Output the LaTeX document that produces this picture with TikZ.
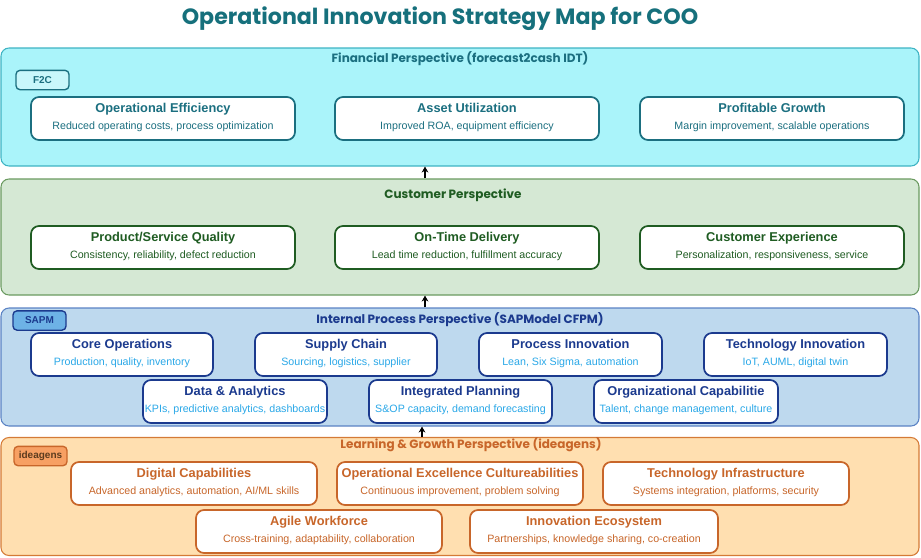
\documentclass[tikz,border=0pt]{standalone}
\usepackage{fontspec}
\setmainfont{Liberation Sans}
\newfontfamily\headfont{Poppins}
\usepackage{tikz}
\usetikzlibrary{arrows.meta}
\usetikzlibrary{positioning}
\definecolor{titleteal}{HTML}{16707C}
\definecolor{finfill}{HTML}{AAF4FA}
\definecolor{finline}{HTML}{3DB3C3}
\definecolor{findark}{HTML}{1B6F80}
\definecolor{finbadge}{HTML}{C9F7FB}
\definecolor{custfill}{HTML}{D5E8D4}
\definecolor{custline}{HTML}{6A9A60}
\definecolor{custdark}{HTML}{1F5C22}
\definecolor{intfill}{HTML}{BED9EE}
\definecolor{intline}{HTML}{5A82C4}
\definecolor{intdark}{HTML}{1B3A8E}
\definecolor{intsub}{HTML}{2AA8E8}
\definecolor{intbadge}{HTML}{6DB2E6}
\definecolor{learnfill}{HTML}{FFDFB0}
\definecolor{learnline}{HTML}{D47A36}
\definecolor{learndark}{HTML}{C8662A}
\definecolor{learnbadge}{HTML}{F7A063}
\definecolor{learnbadgetext}{HTML}{5C3B1E}
\tikzset{panel box/.style={draw,
                           rectangle,
                           rounded corners=6pt,
                           line width=0.8pt,
                           inner sep=0pt}}
\tikzset{item box/.style={draw,
                          rectangle,
                          rounded corners=6pt,
                          line width=1.3pt,
                          fill=white,
                          inner sep=0pt,
                          minimum height=32.25pt}}
\tikzset{badge box/.style={draw,
                           rectangle,
                           rounded corners=3pt,
                           line width=1pt,
                           inner sep=0pt,
                           minimum width=39.75pt,
                           minimum height=14.5pt,
                           font=\bfseries\fontsize{7.5}{9}\selectfont}}
\tikzset{panel title/.style={font=\headfont\bfseries\fontsize{9}{11}\selectfont}}
\tikzset{flow/.style={draw,
                      line width=1.2pt,
                      -{Stealth[length=4.5pt,width=5pt]}}}
\newcommand{\HEAD}{\bfseries\fontsize{9.6}{11}\selectfont}
\newcommand{\SUB}{\fontsize{8}{9.5}\selectfont}

\begin{document}
\begin{tikzpicture}
      [
      x=0.75pt,y=-0.75pt,
      item head/.style={anchor=base,font=\HEAD},
      item text/.style={anchor=base,font=\SUB},
      ]
      \useasboundingbox (0,0) rectangle (921,557);

      % title
      \node [font=\headfont\bfseries\fontsize{16.6}{19}\selectfont,text=titleteal] (title) at (440,19)
      {Operational Innovation Strategy Map for COO};

      % panels
      \node [panel box,fill=finfill,draw=finline,minimum width=688.5pt,minimum height=88.5pt] (fin) at (460,107) {};
      \node [panel box,fill=custfill,draw=custline,minimum width=688.5pt,minimum height=87pt] (cust) at (460,237) {};
      \node [panel box,fill=intfill,draw=intline,minimum width=688.5pt,minimum height=88.5pt] (int) at (460,367) {};
      \node [panel box,fill=learnfill,draw=learnline,minimum width=688.5pt,minimum height=88.5pt] (learn) at (460,496.5) {};

      \node [panel title,text=findark] (fin title) at (460,59) {Financial Perspective (forecast2cash IDT)};
      \node [panel title,text=custdark] (cust title) at (453,195) {Customer Perspective};
      \node [panel title,text=intdark] (int title) at (460,320) {Internal Process Perspective (SAPModel CFPM)};
      \node [panel title,text=learndark] (learn title) at (471,445) {Learning \& Growth Perspective (ideagens)};

      % badges
      \node [badge box,fill=finbadge,draw=findark,text=findark] (f2c) at (42.5,80) {F2C};
      \node [badge box,fill=intbadge,draw=intdark,text=intdark] (sapm) at (39.5,320.5) {SAPM};
      \node [badge box,fill=learnbadge,draw=learndark,text=learnbadgetext] (ideagens) at (40.5,456) {ideagens};

      % financial boxes
      \foreach \n/\xa/\xb/\ya/\hd/\tx in
      {
      effic/31/295/97/{Operational Efficiency}/{Reduced operating costs, process optimization},
      asset/335/599/97/{Asset Utilization}/{Improved ROA, equipment efficiency},
      growth/640/904/97/{Profitable Growth}/{Margin improvement, scalable operations}
      }
      {
      \node [item box,draw=findark,minimum width={(\xb-\xa)*0.75pt}] (\n) at ({(\xa+\xb)/2},{\ya+21.5}) {};
      \node [below=12pt of \n.north,item head,text=findark] (\n hd) {\hd};
      \node [below=24.75pt of \n.north,item text,text=findark] (\n tx) {\tx};
      }

      % customer boxes
      \foreach \n/\xa/\xb/\ya/\hd/\tx in
      {
      quality/31/295/226/{Product/Service Quality}/{Consistency, reliability, defect reduction},
      delivery/335/599/226/{On-Time Delivery}/{Lead time reduction, fulfillment accuracy},
      experience/640/904/226/{Customer Experience}/{Personalization, responsiveness, service}
      }
      {
      \node [item box,draw=custdark,minimum width={(\xb-\xa)*0.75pt}] (\n) at ({(\xa+\xb)/2},{\ya+21.5}) {};
      \node [below=12pt of \n.north,item head,text=custdark] (\n hd) {\hd};
      \node [below=24.75pt of \n.north,item text,text=custdark] (\n tx) {\tx};
      }

      % internal process boxes
      \foreach \n/\xa/\xb/\ya/\hd/\tx in
      {
      core/31/213/333/{Core Operations}/{Production, quality, inventory},
      supply/255/437/333/{Supply Chain}/{Sourcing, logistics, supplier},
      process/479/662/333/{Process Innovation}/{Lean, Six Sigma, automation},
      techinno/704/887/333/{Technology Innovation}/{IoT, AUML, digital twin},
      data/143/327/380/{Data \& Analytics}/{KPIs, predictive analytics, dashboards},
      planning/369/552/380/{Integrated Planning}/{S\&OP capacity, demand forecasting},
      orgcap/594/778/380/{Organizational Capabilitie}/{Talent, change management, culture}
      }
      {
      \node [item box,draw=intdark,minimum width={(\xb-\xa)*0.75pt}] (\n) at ({(\xa+\xb)/2},{\ya+21.5}) {};
      \node [below=12pt of \n.north,item head,text=intdark] (\n hd) {\hd};
      \node [below=24.75pt of \n.north,item text,text=intsub] (\n tx) {\tx};
      }

      % learning boxes
      \foreach \n/\xa/\xb/\ya/\hd/\tx in
      {
      digital/71/317/462/{Digital Capabilities}/{Advanced analytics, automation, AI/ML skills},
      culture/337/583/462/{Operational Excellence Cultureabilities}/{Continuous improvement, problem solving},
      infra/603/849/462/{Technology Infrastructure}/{Systems integration, platforms, security},
      agile/196/442/510/{Agile Workforce}/{Cross-training, adaptability, collaboration},
      ecosys/470/718/510/{Innovation Ecosystem}/{Partnerships, knowledge sharing, co-creation}
      }
      {
      \node [item box,draw=learndark,minimum width={(\xb-\xa)*0.75pt}] (\n) at ({(\xa+\xb)/2},{\ya+21.5}) {};
      \node [below=12pt of \n.north,item head,text=learndark] (\n hd) {\hd};
      \node [below=24.75pt of \n.north,item text,text=learndark] (\n tx) {\tx};
      }

      % arrows
      \draw [flow] ([xshift=-26.25pt]cust.north) -- ([xshift=-26.25pt]fin.south);
      \draw [flow] ([xshift=-26.25pt]int.north) -- ([xshift=-26.25pt]cust.south);
      \draw [flow] ([xshift=-28.5pt]learn.north) -- ([xshift=-28.5pt]int.south);

    \end{tikzpicture}
\end{document}
